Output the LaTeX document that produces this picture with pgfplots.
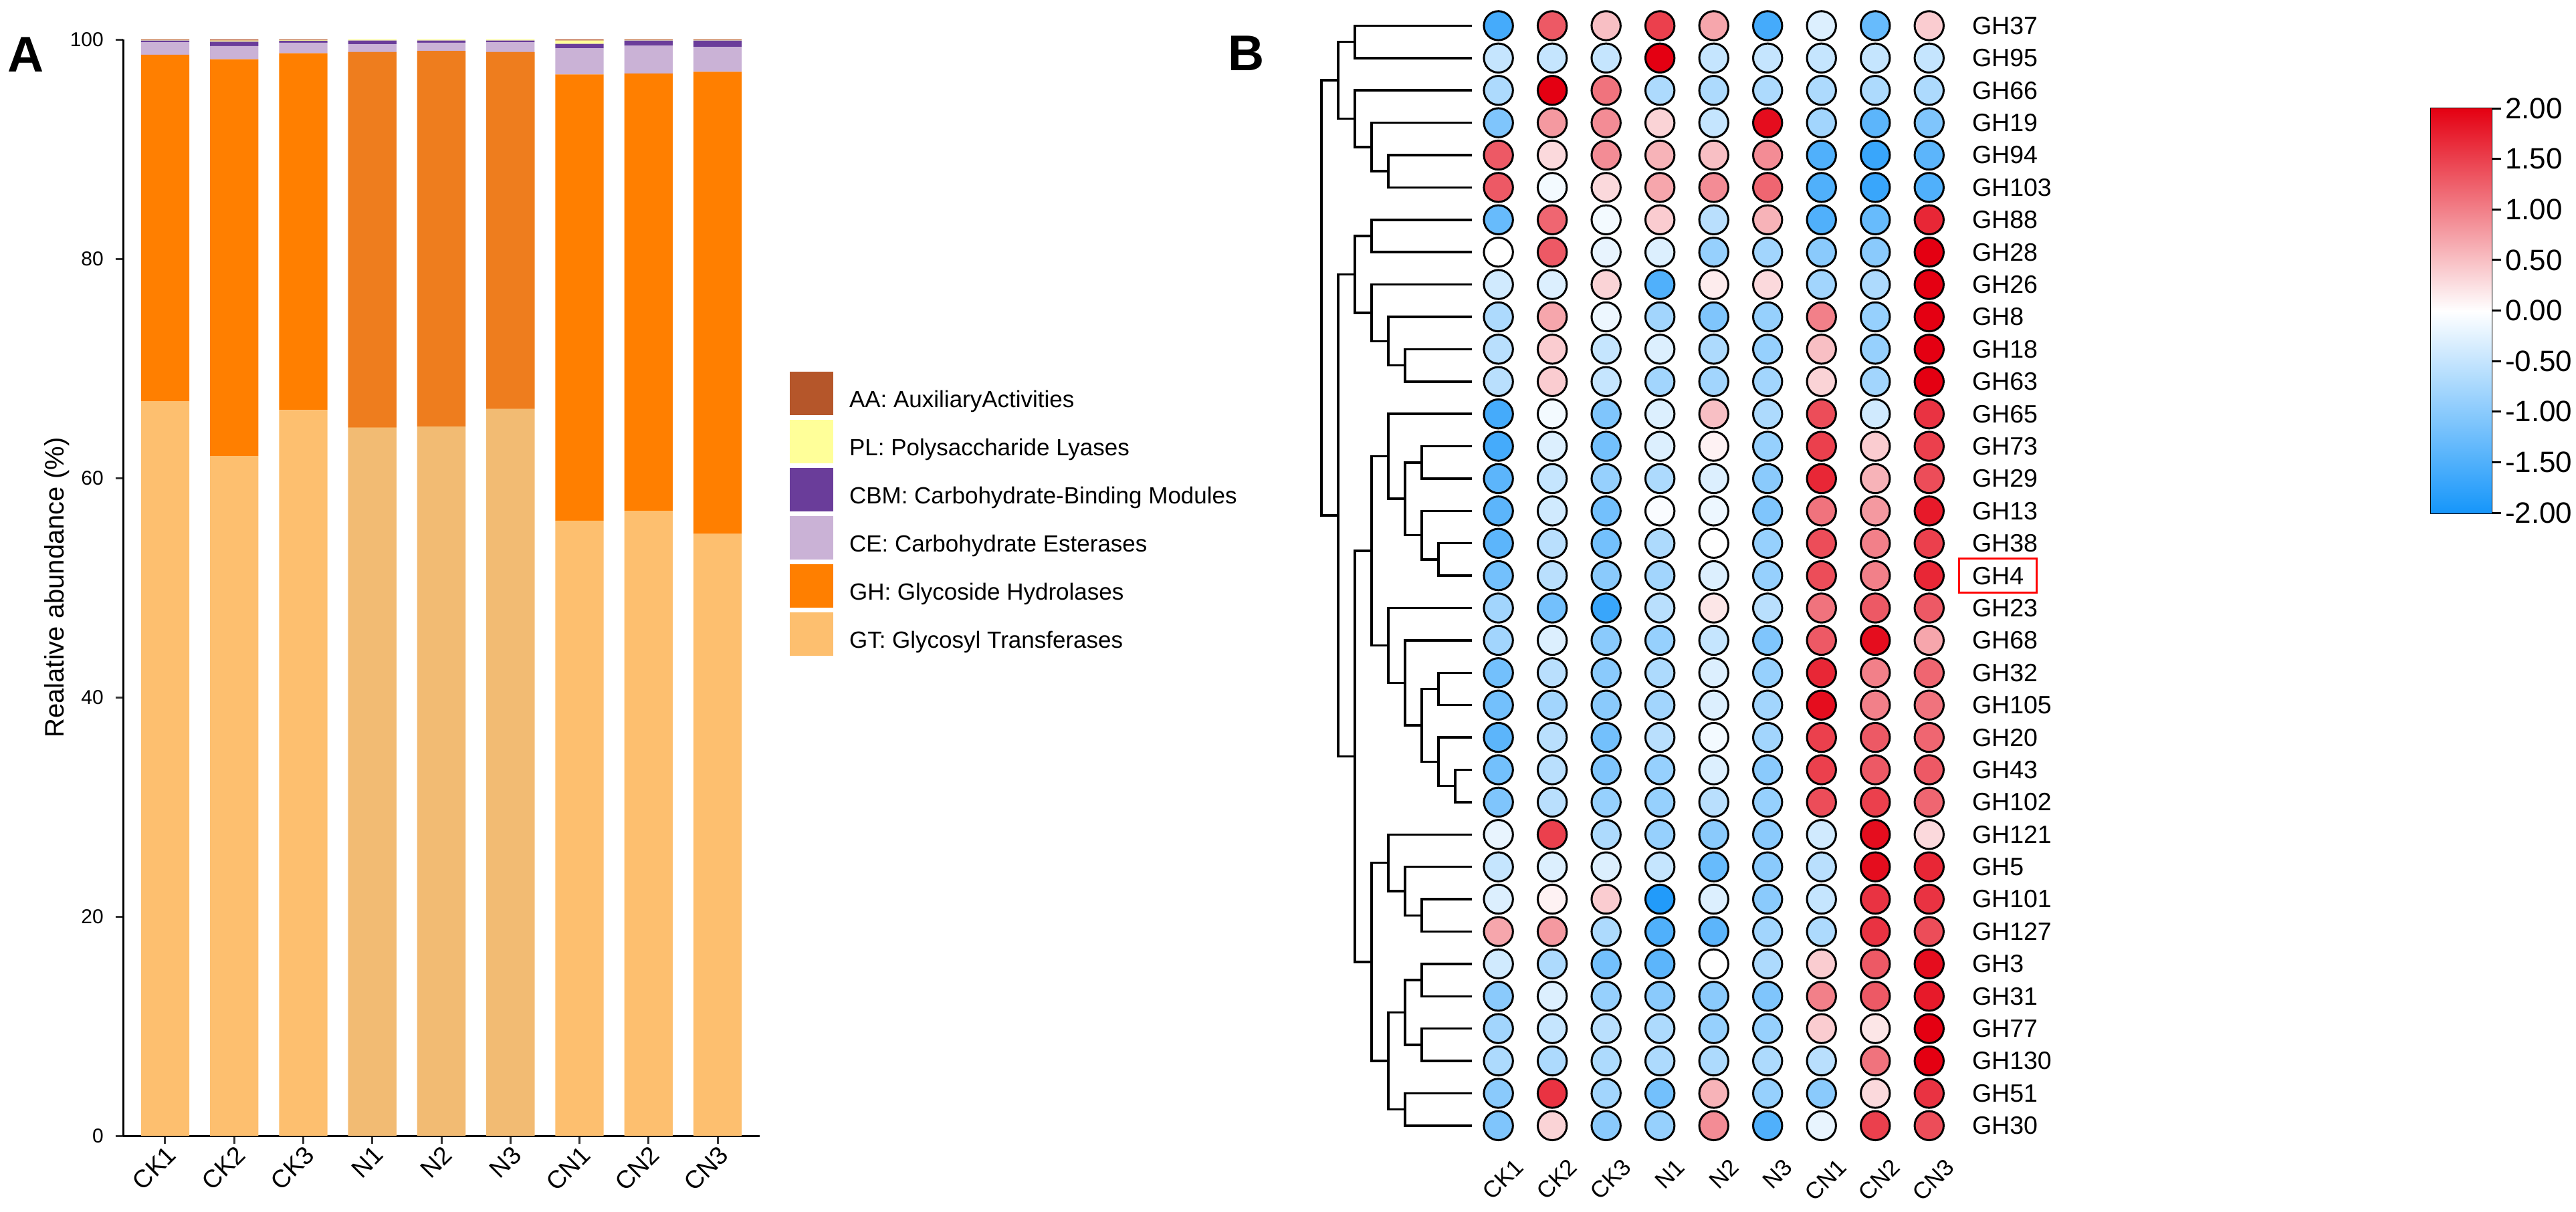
\documentclass[border=0pt]{standalone}
\usepackage{fontspec}
\setmainfont{Liberation Sans}
\usepackage{pgfplots}
\usepackage{pgfplotstable}
\pgfplotsset{compat=1.18}

\newcommand\fs[1]{\fontsize{#1}{#1}\selectfont}

% panel A colours
\definecolor{gtc}{RGB}{253,191,111}
\definecolor{ghc}{RGB}{255,127,0}
\definecolor{cec}{RGB}{202,178,214}
\definecolor{cbmc}{RGB}{106,61,154}
\definecolor{plc}{RGB}{255,255,153}
\definecolor{aac}{RGB}{181,86,42}
\definecolor{gtn}{RGB}{242,187,115}
\definecolor{ghn}{RGB}{238,125,30}

% relative abundance (%) per CAZy class
\pgfplotstableread{
s   GT    GH    CE   CBM  PL   AA
CK1 67.0  31.6  1.15 0.15 0.05 0.05
CK2 62.0  36.2  1.2  0.4  0.1  0.1
CK3 66.2  32.55 0.95 0.18 0.06 0.06
N1  64.6  34.25 0.7  0.35 0.1  0.0
N2  64.7  34.25 0.75 0.2  0.1  0.0
N3  66.3  32.55 0.9  0.15 0.1  0.0
CN1 56.1  40.7  2.4  0.4  0.3  0.1
CN2 57.0  39.9  2.55 0.45 0.05 0.05
CN3 54.9  42.15 2.25 0.6  0.05 0.05
}\cazy

% N samples are drawn in a slightly darker shade
\pgfplotstableread{
x GT    GH
4 64.6  34.25
5 64.7  34.25
6 66.3  32.55
}\nbars

% z-scores of GH families (rows) per sample
\pgfplotstableread{
fam   CK1  CK2  CK3  N1   N2   N3   CN1  CN2  CN3
GH37  -1.6  1.3  0.5  1.5  0.7 -1.6 -0.3 -1.3  0.4
GH95  -0.5 -0.5 -0.5  2.0 -0.5 -0.5 -0.5 -0.5 -0.5
GH66  -0.7  2.0  1.1 -0.7 -0.7 -0.7 -0.7 -0.7 -0.7
GH19  -1.1  0.8  0.9  0.35 -0.5 1.9 -0.8 -1.4 -1.1
GH94   1.3  0.3  0.9  0.6  0.5  0.9 -1.5 -1.7 -1.4
GH103  1.3 -0.1  0.3  0.7  0.9  1.2 -1.5 -1.7 -1.5
GH88  -1.3  1.2 -0.1  0.4 -0.6  0.6 -1.5 -1.3  1.7
GH28   0.0  1.3 -0.2 -0.3 -0.9 -0.8 -1.0 -1.0  2.0
GH26  -0.4 -0.3  0.35 -1.5 0.15 0.3 -0.8 -0.7  2.0
GH8   -0.7  0.7 -0.15 -0.8 -1.1 -0.9 1.0 -0.9  2.0
GH18  -0.6  0.4 -0.5 -0.3 -0.7 -0.9  0.5 -0.9  2.0
GH63  -0.6  0.4 -0.5 -0.8 -0.8 -0.8  0.35 -0.8 2.0
GH65  -1.6 -0.1 -1.1 -0.3  0.5 -0.7  1.4 -0.4  1.6
GH73  -1.6 -0.3 -1.2 -0.3  0.1 -0.9  1.5  0.4  1.5
GH29  -1.4 -0.5 -0.9 -0.7 -0.3 -1.0  1.7  0.6  1.4
GH13  -1.4 -0.4 -1.2 -0.05 -0.15 -1.1 1.1 0.8  1.8
GH38  -1.4 -0.6 -1.2 -0.7  0.0 -0.9  1.4  1.0  1.5
GH4   -1.2 -0.6 -1.0 -0.8 -0.3 -0.9  1.4  1.0  1.7
GH23  -0.8 -1.2 -1.7 -0.6  0.2 -0.6  1.1  1.3  1.3
GH68  -0.8 -0.3 -1.0 -0.9 -0.5 -1.1  1.3  1.9  0.7
GH32  -1.2 -0.6 -1.0 -0.7 -0.3 -0.9  1.7  1.0  1.2
GH105 -1.2 -0.8 -1.0 -0.8 -0.3 -0.8  1.9  1.0  1.1
GH20  -1.4 -0.6 -1.2 -0.6 -0.1 -0.8  1.5  1.3  1.2
GH43  -1.2 -0.6 -1.1 -0.9 -0.3 -1.0  1.5  1.3  1.3
GH102 -1.1 -0.6 -0.9 -0.9 -0.6 -0.9  1.4  1.5  1.2
GH121 -0.2  1.5 -0.7 -0.9 -1.0 -1.0 -0.4  1.9  0.3
GH5   -0.5 -0.3 -0.3 -0.5 -1.3 -1.0 -0.6  1.9  1.7
GH101 -0.3  0.1  0.4 -1.9 -0.3 -1.0 -0.5  1.6  1.6
GH127  0.7  0.8 -0.7 -1.5 -1.4 -0.8 -0.7  1.6  1.4
GH3   -0.4 -0.7 -1.2 -1.4  0.0 -0.7  0.4  1.3  1.9
GH31  -1.0 -0.3 -0.9 -1.0 -1.0 -1.1  1.0  1.3  1.8
GH77  -0.8 -0.5 -0.6 -0.7 -0.9 -0.9  0.4  0.2  2.0
GH130 -0.7 -0.7 -0.7 -0.7 -0.7 -0.7 -0.6  1.1  2.0
GH51  -1.0  1.6 -0.8 -1.2  0.6 -0.9 -1.0  0.3  1.6
GH30  -1.1  0.35 -1.0 -0.9 0.9 -1.5 -0.2  1.5  1.4
}\ghdata

\pgfplotsset{
  colormap={gh}{rgb255=(22,150,250) rgb255=(255,255,255) rgb255=(228,0,18)},
  sq legend/.style={legend image code/.code={\fill[##1] (0pt,-4pt) rectangle (13pt,9pt);}},
  dend/.style={black, line width=0.7pt, no marks, forget plot},
  hm/.style={scatter, only marks, mark=*, mark size=4.34pt, scatter src=explicit,
    scatter/use mapped color={draw=black, fill=mapped color},
    mark options={line width=0.6pt}},
}

\begin{document}
\begin{tikzpicture}
\path[use as bounding box] (0pt,0pt) rectangle (770.4pt,362.4pt);

% ---------------- panel A ----------------
\node[anchor=north west, inner sep=0pt, font=\fs{15}\bfseries] at (2.2pt,351.4pt) {A};

\begin{axis}[
  at={(36.8pt,22.6pt)}, anchor=south west,
  scale only axis, width=190.4pt, height=328pt,
  ybar stacked, bar width=0.7,
  xmin=0.39, xmax=9.61, ymin=0, ymax=100,
  axis x line*=bottom, axis y line*=left,
  axis line style={line width=0.6pt, -},
  xtick={1,...,9},
  xticklabels={CK1,CK2,CK3,N1,N2,N3,CN1,CN2,CN3},
  ytick={0,20,...,100},
  tick align=outside, major tick length=2.3pt,
  tick style={line width=0.6pt, black!80},
  /pgf/number format/assume math mode=true,
  xticklabel style={rotate=45, anchor=north east, inner sep=0pt, font=\fs{7.5}},
  yticklabel style={font=\fs{6}},
  ylabel={Realative abundance (\%)},
  every axis y label/.style={at={(axis description cs:-0.104,0.5)}, rotate=90, anchor=center, font=\fs{8}},
  reverse legend,
  legend cell align=left,
  legend style={at={(1.0462,0.6976)}, anchor=north west, draw=none, fill=none,
    inner sep=0pt, row sep=1.4pt, column sep=4.8pt, font=\fs{7},
    nodes={inner sep=0pt}},
]
\addplot[fill=gtc, draw=none, sq legend] table[x expr=\coordindex+1, y=GT] {\cazy};
\addlegendentry{GT: Glycosyl Transferases}
\addplot[fill=ghc, draw=none, sq legend] table[x expr=\coordindex+1, y=GH] {\cazy};
\addlegendentry{GH: Glycoside Hydrolases}
\addplot[fill=cec, draw=none, sq legend] table[x expr=\coordindex+1, y=CE] {\cazy};
\addlegendentry{CE: Carbohydrate Esterases}
\addplot[fill=cbmc, draw=none, sq legend] table[x expr=\coordindex+1, y=CBM] {\cazy};
\addlegendentry{CBM: Carbohydrate-Binding Modules}
\addplot[fill=plc, draw=none, sq legend] table[x expr=\coordindex+1, y=PL] {\cazy};
\addlegendentry{PL: Polysaccharide Lyases}
\addplot[fill=aac, draw=none, sq legend] table[x expr=\coordindex+1, y=AA] {\cazy};
\addlegendentry{AA: AuxiliaryActivities}
\end{axis}

\begin{axis}[
  at={(36.8pt,22.6pt)}, anchor=south west,
  scale only axis, width=190.4pt, height=328pt,
  ybar stacked, bar width=0.7,
  xmin=0.39, xmax=9.61, ymin=0, ymax=100,
  hide axis,
]
\addplot[fill=gtn, draw=none] table[x=x, y=GT] {\nbars};
\addplot[fill=ghn, draw=none] table[x=x, y=GH] {\nbars};
\end{axis}

% ---------------- panel B ----------------
\node[anchor=north west, inner sep=0pt, font=\fs{15}\bfseries] at (367pt,351.8pt) {B};

% dendrogram: x = merge level (0 root, 9 leaves), y = row
\begin{axis}[
  at={(395.2pt,20.8pt)}, anchor=south west,
  scale only axis, width=45pt, height=338.76pt,
  xmin=0, xmax=9, ymin=0.5, ymax=35.5, y dir=reverse,
  hide axis, clip=false,
]
\addplot[dend] coordinates {(9,1)(2,1)(2,2)(9,2)};
\addplot[dend] coordinates {(9,5)(4,5)(4,6)(9,6)};
\addplot[dend] coordinates {(9,4)(3,4)(3,5.5)(4,5.5)};
\addplot[dend] coordinates {(9,3)(2,3)(2,4.75)(3,4.75)};
\addplot[dend] coordinates {(2,1.5)(1,1.5)(1,3.875)(2,3.875)};
\addplot[dend] coordinates {(9,7)(3,7)(3,8)(9,8)};
\addplot[dend] coordinates {(9,11)(5,11)(5,12)(9,12)};
\addplot[dend] coordinates {(9,10)(4,10)(4,11.5)(5,11.5)};
\addplot[dend] coordinates {(9,9)(3,9)(3,10.75)(4,10.75)};
\addplot[dend] coordinates {(3,7.5)(2,7.5)(2,9.875)(3,9.875)};
\addplot[dend] coordinates {(9,17)(7,17)(7,18)(9,18)};
\addplot[dend] coordinates {(9,16)(6,16)(6,17.5)(7,17.5)};
\addplot[dend] coordinates {(9,14)(6,14)(6,15)(9,15)};
\addplot[dend] coordinates {(6,14.5)(5,14.5)(5,16.75)(6,16.75)};
\addplot[dend] coordinates {(9,13)(4,13)(4,15.625)(5,15.625)};
\addplot[dend] coordinates {(9,24)(8,24)(8,25)(9,25)};
\addplot[dend] coordinates {(9,23)(7,23)(7,24.5)(8,24.5)};
\addplot[dend] coordinates {(9,21)(7,21)(7,22)(9,22)};
\addplot[dend] coordinates {(7,21.5)(6,21.5)(6,23.75)(7,23.75)};
\addplot[dend] coordinates {(9,20)(5,20)(5,22.625)(6,22.625)};
\addplot[dend] coordinates {(9,19)(4,19)(4,21.3125)(5,21.3125)};
\addplot[dend] coordinates {(4,14.3125)(3,14.3125)(3,20.15625)(4,20.15625)};
\addplot[dend] coordinates {(9,28)(6,28)(6,29)(9,29)};
\addplot[dend] coordinates {(9,27)(5,27)(5,28.5)(6,28.5)};
\addplot[dend] coordinates {(9,26)(4,26)(4,27.75)(5,27.75)};
\addplot[dend] coordinates {(9,30)(6,30)(6,31)(9,31)};
\addplot[dend] coordinates {(9,32)(6,32)(6,33)(9,33)};
\addplot[dend] coordinates {(6,30.5)(5,30.5)(5,32.5)(6,32.5)};
\addplot[dend] coordinates {(9,34)(5,34)(5,35)(9,35)};
\addplot[dend] coordinates {(5,31.5)(4,31.5)(4,34.5)(5,34.5)};
\addplot[dend] coordinates {(4,26.875)(3,26.875)(3,33)(4,33)};
\addplot[dend] coordinates {(3,17.234375)(2,17.234375)(2,29.9375)(3,29.9375)};
\addplot[dend] coordinates {(2,8.6875)(1,8.6875)(1,23.5859375)(2,23.5859375)};
\addplot[dend] coordinates {(1,2.6875)(0,2.6875)(0,16.13671875)(1,16.13671875)};
\end{axis}

% bubble heatmap
\begin{axis}[
  at={(440.07pt,20.8pt)}, anchor=south west,
  scale only axis, width=144.93pt, height=338.76pt,
  xmin=0.5, xmax=9.5, ymin=0.5, ymax=35.5, y dir=reverse,
  clip=false,
  axis line style={draw=none},
  major tick length=0pt,
  xtick={1,...,9},
  xticklabels={CK1,CK2,CK3,N1,N2,N3,CN1,CN2,CN3},
  ytick={1,...,35},
  yticklabels={GH37,GH95,GH66,GH19,GH94,GH103,GH88,GH28,GH26,GH8,GH18,GH63,GH65,GH73,GH29,GH13,GH38,GH4,GH23,GH68,GH32,GH105,GH20,GH43,GH102,GH121,GH5,GH101,GH127,GH3,GH31,GH77,GH130,GH51,GH30},
  yticklabel pos=right,
  xticklabel style={rotate=45, anchor=north east, inner sep=0pt, yshift=-6.2pt, font=\fs{7}},
  yticklabel style={inner sep=0pt, xshift=4.6pt, font=\fs{7.5}},
  colormap name=gh,
  point meta min=-2, point meta max=2,
]
\pgfplotsinvokeforeach{1,...,9}{
  \addplot[hm] table[x expr=#1, y expr=\coordindex+1, meta index=#1] {\ghdata};
}
\draw[red, line width=0.6pt] (axis cs:9.56,17.47) rectangle (axis cs:11.0,18.53);
\end{axis}

% colour key
\begin{axis}[
  at={(727pt,209pt)}, anchor=south west,
  scale only axis, width=18pt, height=121pt,
  xmin=0, xmax=1, ymin=-2, ymax=2,
  axis line style={line width=0.6pt},
  xtick=\empty,
  ytick={-2,-1.5,...,2}, ytick pos=right, yticklabel pos=right,
  tick align=outside, major tick length=3pt,
  tick style={line width=0.6pt, black},
  yticklabel style={font=\fs{8.8}, inner sep=1pt,
    /pgf/number format/.cd, fixed, fixed zerofill, precision=2, assume math mode=true},
  colormap name=gh,
  point meta min=-2, point meta max=2,
]
\addplot[patch, shader=interp, point meta=explicit] coordinates {
  (0,-2) [-2] (1,-2) [-2] (1,0) [0]
  (0,-2) [-2] (1,0) [0] (0,0) [0]
  (0,0) [0] (1,0) [0] (1,2) [2]
  (0,0) [0] (1,2) [2] (0,2) [2]
};
\end{axis}
\end{tikzpicture}
\end{document}
